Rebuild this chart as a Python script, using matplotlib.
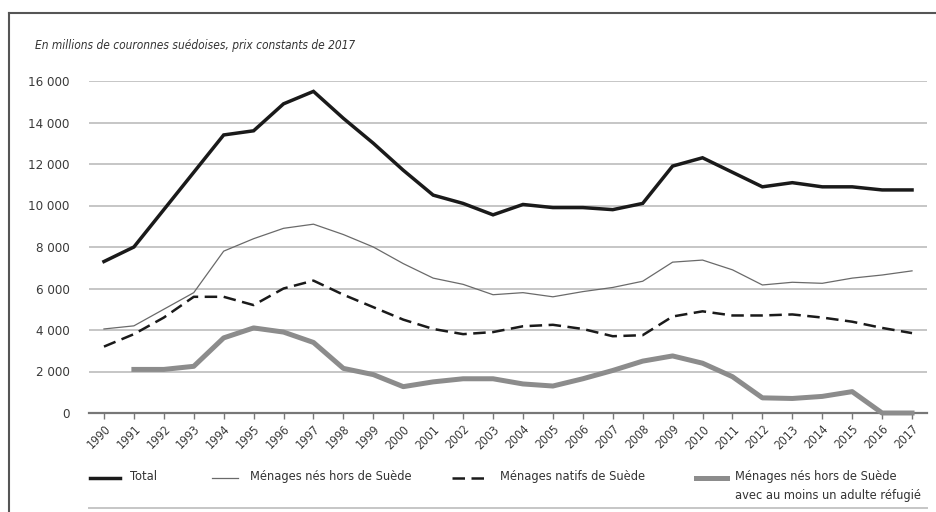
import matplotlib
matplotlib.use('Agg')
import matplotlib.pyplot as plt
from matplotlib.lines import Line2D
from matplotlib.ticker import FuncFormatter

plt.rcParams['font.family'] = ['DejaVu Sans']
plt.rcParams['font.stretch'] = 'condensed'

# données (millions de SEK, prix constants 2017)
annees = list(range(1990, 2018))
total = [7300, 8000, 9800, 11600, 13400, 13600, 14900, 15500, 14200, 13000,
         11700, 10500, 10100, 9550, 10050, 9900, 9900, 9800, 10100, 11900,
         12300, 11600, 10900, 11100, 10900, 10900, 10750, 10750]
nes_hors = [4050, 4200, 5000, 5800, 7800, 8400, 8900, 9100, 8600, 8000,
            7200, 6500, 6200, 5700, 5800, 5600, 5850, 6050, 6350, 7270,
            7370, 6900, 6170, 6300, 6250, 6500, 6650, 6850]
natifs = [3200, 3800, 4600, 5600, 5600, 5200, 6000, 6380, 5700, 5100,
          4500, 4050, 3800, 3900, 4180, 4250, 4050, 3700, 3750, 4650,
          4900, 4700, 4700, 4750, 4600, 4400, 4100, 3850]
annees_ref = list(range(1991, 2018))
refugies = [2100, 2100, 2250, 3620, 4100, 3900, 3400, 2150, 1850,
            1270, 1500, 1650, 1650, 1400, 1300, 1650, 2050, 2500, 2750,
            2400, 1750, 730, 700, 800, 1030, 0, 0]

legende = ['Total', 'Ménages nés hors de Suède', 'Ménages natifs de Suède',
           'Ménages nés hors de Suède\navec au moins un adulte réfugié']

W, H = 937, 512
fig = plt.figure(figsize=(W / 100, H / 100), dpi=100)
ax = fig.add_axes([89 / W, 1 - 413 / H, (927 - 89) / W, (413 - 81) / H])

styles = [
    dict(color='#1a1a1a', lw=2.5),
    dict(color='#6a6a6a', lw=0.9),
    dict(color='#1a1a1a', lw=1.8, dashes=(5, 2.6)),
    dict(color='#8c8c8c', lw=3.6),
]

ax.plot(annees, total, **styles[0], solid_joinstyle='miter', zorder=5)
ax.plot(annees, nes_hors, **styles[1], zorder=4)
ax.plot(annees, natifs, **styles[2], zorder=4)
ax.plot(annees_ref, refugies, **styles[3], clip_on=False, zorder=3)

ax.set_xlim(1989.5, 2017.5)
ax.set_ylim(0, 16000)
ax.set_yticks(range(0, 16001, 2000))
ax.yaxis.set_major_formatter(FuncFormatter(lambda v, p: f'{int(v):,}'.replace(',', ' ')))
ax.set_xticks(annees)
ax.set_xticklabels([str(a) for a in annees], rotation=45, ha='right',
                   rotation_mode='anchor')

ax.grid(axis='y', color='#c6c6c6', lw=1.4)
ax.set_axisbelow(True)
for s in ['top', 'right', 'left']:
    ax.spines[s].set_visible(False)
ax.spines['bottom'].set_color('#777777')
ax.spines['bottom'].set_linewidth(1.6)
ax.tick_params(axis='y', length=0, pad=14, labelsize=9.5, labelcolor='#3a3a3a')
ax.tick_params(axis='x', length=4, width=1, color='#777777', pad=3,
               labelsize=8.7, labelcolor='#3a3a3a')

fig.text(35 / W, 1 - 45 / H, 'En millions de couronnes suédoises, prix constants de 2017',
         fontsize=8.6, style='italic', color='#333333', va='center')

# cadre
fig.add_artist(Line2D([9 / W, 9 / W], [0, 1 - 13 / H], color='#555555', lw=1.5))
fig.add_artist(Line2D([9 / W, 1], [1 - 13 / H, 1 - 13 / H], color='#555555', lw=1.5))

# légende
pos = [(90, 120, 130), (212, 238, 250), (452, 490, 500), (696, 727, 735)]
for (x0, x1, xt), st, lab in zip(pos, styles, legende):
    yl = 1 - 478 / H
    fig.add_artist(Line2D([x0 / W, x1 / W], [yl, yl], **st))
    fig.text(xt / W, 1 - 470 / H, lab, fontsize=9.2, color='#333333', va='top',
             linespacing=1.55)
fig.add_artist(Line2D([89 / W, 927 / W], [1 - 508 / H] * 2, color='#c6c6c6', lw=1.4))

fig.savefig('out.png', dpi=100)
